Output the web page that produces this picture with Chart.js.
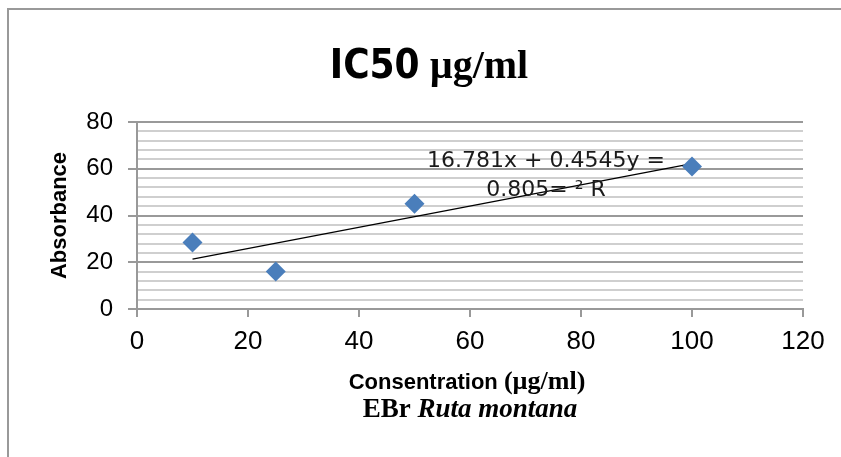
<!DOCTYPE html>
<html>
<head>
<meta charset="utf-8">
<title>IC50 µg/ml</title>
<script src="https://cdn.jsdelivr.net/npm/chart.js@4.4.1/dist/chart.umd.min.js"></script>
<style>
  html, body { margin: 0; padding: 0; background: #fff; }
  #wrap { width: 841px; height: 457px; }
</style>
</head>
<body>
<div id="wrap"><canvas id="ic50" width="841" height="457"></canvas></div>
<script>
// data
var concentration = [10, 25, 50, 100];
var absorbance    = [28.5, 16, 45, 61];
// linear trendline ends (x = 10 .. 100)
var trendX = [10, 100];
var trendY = [21.3, 62.2];
var xTicks = [0, 20, 40, 60, 80, 100, 120];
var yMajor = 20, yMinor = 4;
var eqLines = ['16.781x + 0.4545y =', '0.805= \u00b2 R'];
var eqAnchor = [73.7, 63.3, 50.9]; // x, y of line 1, y of line 2 (data units)

var grey = '#999';
var minorGrey = '#cfcfcf';

function toPoints(xs, ys) {
  return xs.map(function (x, i) { return { x: x, y: ys[i] }; });
}

// draws a row of text runs (different fonts) centered on cx
function drawRuns(ctx, runs, cx, y) {
  var total = 0;
  runs.forEach(function (r) { ctx.font = r.font; r.w = ctx.measureText(r.text).width; total += r.w; });
  var x = cx - total / 2;
  ctx.textAlign = 'left';
  ctx.textBaseline = 'alphabetic';
  runs.forEach(function (r) { ctx.font = r.font; ctx.fillText(r.text, x, y); x += r.w; });
}

var textPlugin = {
  id: 'texts',
  beforeDraw: function (chart) {
    var ctx = chart.ctx;
    ctx.save();
    ctx.fillStyle = '#fff';
    ctx.fillRect(0, 0, chart.width, chart.height);
    // frame (only left + top show in the picture)
    ctx.strokeStyle = '#999';
    ctx.lineWidth = 2;
    ctx.beginPath();
    ctx.moveTo(8, chart.height);
    ctx.lineTo(8, 9);
    ctx.lineTo(chart.width, 9);
    ctx.stroke();
    ctx.restore();
  },
  afterDraw: function (chart) {
    var ctx = chart.ctx, a = chart.chartArea;
    var xs = chart.scales.x, ys = chart.scales.y;
    var mid = (a.left + a.right) / 2;
    ctx.save();
    ctx.fillStyle = '#000';

    // title
    drawRuns(ctx, [
      { text: 'IC50', font: 'bold 40px "Liberation Sans Narrow", "DejaVu Sans Condensed", sans-serif' },
      { text: ' \u00b5g/ml', font: 'bold 40px "Liberation Serif", serif' }
    ], 429, 78);

    // x axis title, two lines
    drawRuns(ctx, [
      { text: 'Consentration ', font: 'bold 22px "Liberation Sans", Arial, sans-serif' },
      { text: '(\u00b5g/ml)', font: 'bold 26px "Liberation Serif", serif' }
    ], mid - 3, 389);
    drawRuns(ctx, [
      { text: 'EBr ', font: 'bold 27px "Liberation Serif", serif' },
      { text: 'Ruta montana', font: 'italic bold 27px "Liberation Serif", serif' }
    ], mid, 417);

    // y axis title
    ctx.save();
    ctx.translate(60, (a.top + a.bottom) / 2);
    ctx.rotate(-Math.PI / 2);
    ctx.font = 'bold 22px "Liberation Sans", Arial, sans-serif';
    ctx.textAlign = 'center';
    ctx.textBaseline = 'middle';
    ctx.fillText('Absorbance', 0, 0);
    ctx.restore();

    // trendline equation
    ctx.fillStyle = '#1a1a1a';
    ctx.font = '22px "DejaVu Sans", sans-serif';
    ctx.textAlign = 'center';
    ctx.textBaseline = 'middle';
    var ex = xs.getPixelForValue(eqAnchor[0]);
    ctx.fillText(eqLines[0], ex, ys.getPixelForValue(eqAnchor[1]));
    ctx.fillText(eqLines[1], ex, ys.getPixelForValue(eqAnchor[2]));
    ctx.restore();
  }
};

var ctx = document.getElementById('ic50').getContext('2d');
new Chart(ctx, {
  type: 'scatter',
  data: {
    datasets: [
      {
        label: 'Absorbance',
        data: toPoints(concentration, absorbance),
        pointStyle: 'rectRot',
        pointRadius: 10,
        pointHoverRadius: 10,
        pointBackgroundColor: '#4a7ebb',
        pointBorderWidth: 0,
        order: 1
      },
      {
        label: 'Linear',
        data: toPoints(trendX, trendY),
        showLine: true,
        borderColor: '#000',
        borderWidth: 1.2,
        pointRadius: 0,
        fill: false,
        order: 2
      }
    ]
  },
  options: {
    responsive: false,
    animation: false,
    devicePixelRatio: 1,
    layout: { padding: { top: 122, left: 0, right: 38, bottom: 100 } },
    plugins: {
      legend: { display: false },
      title: { display: false },
      tooltip: { enabled: false }
    },
    scales: {
      x: {
        type: 'linear',
        min: xTicks[0],
        max: xTicks[xTicks.length - 1],
        afterBuildTicks: function (scale) {
          scale.ticks = xTicks.map(function (v) { return { value: v }; });
        },
        afterFit: function (scale) { scale.height = 48; },
        grid: { drawOnChartArea: false, drawTicks: true, tickLength: 8, lineWidth: 2, color: grey, tickColor: grey },
        border: { display: true, color: grey, width: 2 },
        ticks: {
          padding: 9,
          color: '#000',
          font: { family: '"Liberation Sans", Arial, sans-serif', size: 26 }
        }
      },
      y: {
        type: 'linear',
        min: 0,
        max: 80,
        afterFit: function (scale) { scale.width = 137; },
        grid: {
          drawTicks: true,
          tickLength: 9,
          lineWidth: 2,
          color: function (c) { return c.tick && c.tick.value % yMajor === 0 ? grey : minorGrey; },
          tickColor: function (c) { return c.tick && c.tick.value % yMajor === 0 ? grey : 'rgba(0,0,0,0)'; }
        },
        border: { display: true, color: grey, width: 2 },
        ticks: {
          stepSize: yMinor,
          autoSkip: false,
          padding: 15,
          color: '#000',
          font: { family: '"Liberation Sans", Arial, sans-serif', size: 24 },
          callback: function (v) { return v % yMajor === 0 ? v : ''; }
        }
      }
    }
  },
  plugins: [textPlugin]
});
</script>
</body>
</html>
